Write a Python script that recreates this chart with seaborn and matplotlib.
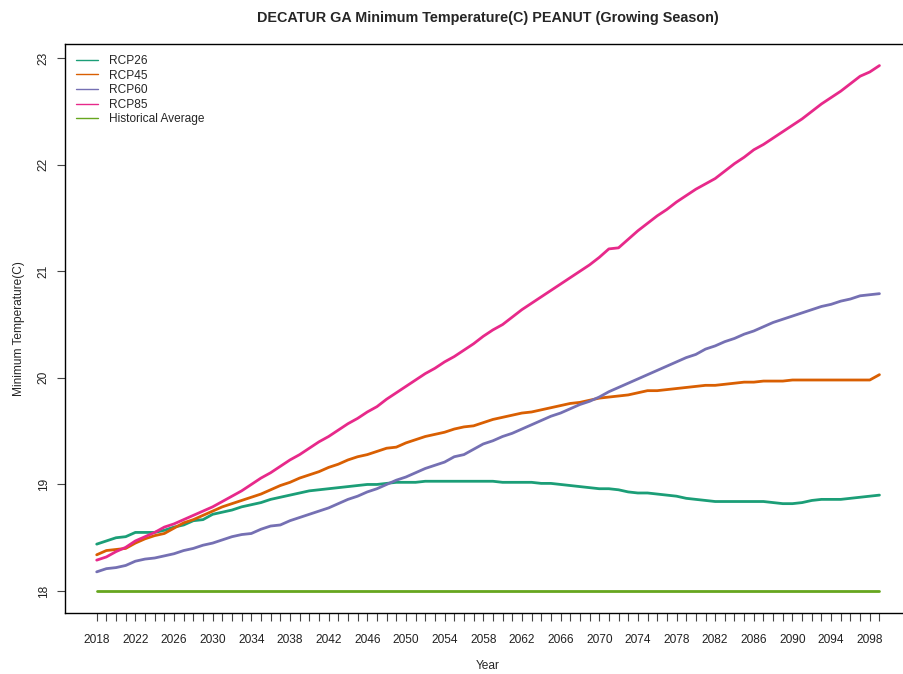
import matplotlib
matplotlib.use("Agg")
from matplotlib import pyplot as plt
from matplotlib.lines import Line2D
import seaborn as sns
import pandas as pd
import numpy as np

years = list(range(2018, 2100))

rcp26 = [18.44, 18.47, 18.50, 18.51, 18.55, 18.55, 18.55, 18.57, 18.60, 18.62,
         18.66, 18.67, 18.72, 18.74, 18.76, 18.79, 18.81, 18.83, 18.86, 18.88,
         18.90, 18.92, 18.94, 18.95, 18.96, 18.97, 18.98, 18.99, 19.00, 19.00,
         19.01, 19.02, 19.02, 19.02, 19.03, 19.03, 19.03, 19.03, 19.03, 19.03,
         19.03, 19.03, 19.02, 19.02, 19.02, 19.02, 19.01, 19.01, 19.00, 18.99,
         18.98, 18.97, 18.96, 18.96, 18.95, 18.93, 18.92, 18.92, 18.91, 18.90,
         18.89, 18.87, 18.86, 18.85, 18.84, 18.84, 18.84, 18.84, 18.84, 18.84,
         18.83, 18.82, 18.82, 18.83, 18.85, 18.86, 18.86, 18.86, 18.87, 18.88,
         18.89, 18.90]

rcp45 = [18.34, 18.38, 18.39, 18.40, 18.45, 18.49, 18.52, 18.54, 18.59, 18.64,
         18.67, 18.71, 18.75, 18.79, 18.82, 18.85, 18.88, 18.91, 18.95, 18.99,
         19.02, 19.06, 19.09, 19.12, 19.16, 19.19, 19.23, 19.26, 19.28, 19.31,
         19.34, 19.35, 19.39, 19.42, 19.45, 19.47, 19.49, 19.52, 19.54, 19.55,
         19.58, 19.61, 19.63, 19.65, 19.67, 19.68, 19.70, 19.72, 19.74, 19.76,
         19.77, 19.79, 19.81, 19.82, 19.83, 19.84, 19.86, 19.88, 19.88, 19.89,
         19.90, 19.91, 19.92, 19.93, 19.93, 19.94, 19.95, 19.96, 19.96, 19.97,
         19.97, 19.97, 19.98, 19.98, 19.98, 19.98, 19.98, 19.98, 19.98, 19.98,
         19.98, 20.03]

rcp60 = [18.18, 18.21, 18.22, 18.24, 18.28, 18.30, 18.31, 18.33, 18.35, 18.38,
         18.40, 18.43, 18.45, 18.48, 18.51, 18.53, 18.54, 18.58, 18.61, 18.62,
         18.66, 18.69, 18.72, 18.75, 18.78, 18.82, 18.86, 18.89, 18.93, 18.96,
         19.00, 19.04, 19.07, 19.11, 19.15, 19.18, 19.21, 19.26, 19.28, 19.33,
         19.38, 19.41, 19.45, 19.48, 19.52, 19.56, 19.60, 19.64, 19.67, 19.71,
         19.75, 19.78, 19.82, 19.87, 19.91, 19.95, 19.99, 20.03, 20.07, 20.11,
         20.15, 20.19, 20.22, 20.27, 20.30, 20.34, 20.37, 20.41, 20.44, 20.48,
         20.52, 20.55, 20.58, 20.61, 20.64, 20.67, 20.69, 20.72, 20.74, 20.77,
         20.78, 20.79]

rcp85 = [18.29, 18.32, 18.37, 18.41, 18.47, 18.51, 18.55, 18.60, 18.63, 18.67,
         18.71, 18.75, 18.79, 18.84, 18.89, 18.94, 19.00, 19.06, 19.11, 19.17,
         19.23, 19.28, 19.34, 19.40, 19.45, 19.51, 19.57, 19.62, 19.68, 19.73,
         19.80, 19.86, 19.92, 19.98, 20.04, 20.09, 20.15, 20.20, 20.26, 20.32,
         20.39, 20.45, 20.50, 20.57, 20.64, 20.70, 20.76, 20.82, 20.88, 20.94,
         21.00, 21.06, 21.13, 21.21, 21.22, 21.30, 21.38, 21.45, 21.52, 21.58,
         21.65, 21.71, 21.77, 21.82, 21.87, 21.94, 22.01, 22.07, 22.14, 22.19,
         22.25, 22.31, 22.37, 22.43, 22.50, 22.57, 22.63, 22.69, 22.76, 22.83,
         22.87, 22.93]

hist_avg = 18.0

series_names = ["RCP26", "RCP45", "RCP60", "RCP85", "Historical Average"]
colors = ["#1B9E77", "#D95F02", "#7570B3", "#E7298A", "#66A61E"]

df = pd.concat([
    pd.DataFrame({"Year": years, "Temp": rcp26, "Series": "RCP26"}),
    pd.DataFrame({"Year": years, "Temp": rcp45, "Series": "RCP45"}),
    pd.DataFrame({"Year": years, "Temp": rcp60, "Series": "RCP60"}),
    pd.DataFrame({"Year": years, "Temp": rcp85, "Series": "RCP85"}),
    pd.DataFrame({"Year": years, "Temp": [hist_avg] * len(years), "Series": "Historical Average"}),
])

sns.set_style("white")
plt.rcParams["font.family"] = ["Liberation Sans", "DejaVu Sans"]

fig = plt.figure(figsize=(9.04, 6.74), dpi=100)
# plot region runs a little past the right edge of the image, like the original
ax = fig.add_axes([0.0719, 0.0905, 0.936, 0.844])

sns.lineplot(data=df, x="Year", y="Temp", hue="Series", hue_order=series_names,
             palette=colors, linewidth=2, legend=False, ax=ax)

ax.set_xlim(2014.72, 2102.28)
ax.set_ylim(17.794, 23.131)

ax.set_xticks(years)
ax.set_xticklabels([str(y) if (y - 2018) % 4 == 0 else "" for y in years])
ax.set_yticks([18, 19, 20, 21, 22, 23])
ax.set_yticklabels(["18", "19", "20", "21", "22", "23"], rotation=90, va="center")
ax.tick_params(axis="both", bottom=True, left=True, direction="out", length=6,
               width=0.8, color="#444444", labelsize=8.6, labelcolor="#222222")
ax.tick_params(axis="x", pad=9)
ax.tick_params(axis="y", pad=5)

for s in ax.spines.values():
    s.set_color("black")
    s.set_linewidth(1.0)

ax.set_xlabel("Year", fontsize=8.6, labelpad=10)
ax.set_ylabel("Minimum Temperature(C)", fontsize=8.6, labelpad=9)
ax.set_title("DECATUR GA Minimum Temperature(C) PEANUT (Growing Season)",
             fontsize=10.4, fontweight="bold", pad=16)

handles = [Line2D([0], [0], color=c, lw=1) for c in colors]
ax.legend(handles, series_names, loc="upper left", frameon=False, fontsize=8.6,
          handlelength=1.9, handletextpad=0.85, labelspacing=0.22,
          borderaxespad=0.5)

fig.savefig("out.png", dpi=100)
